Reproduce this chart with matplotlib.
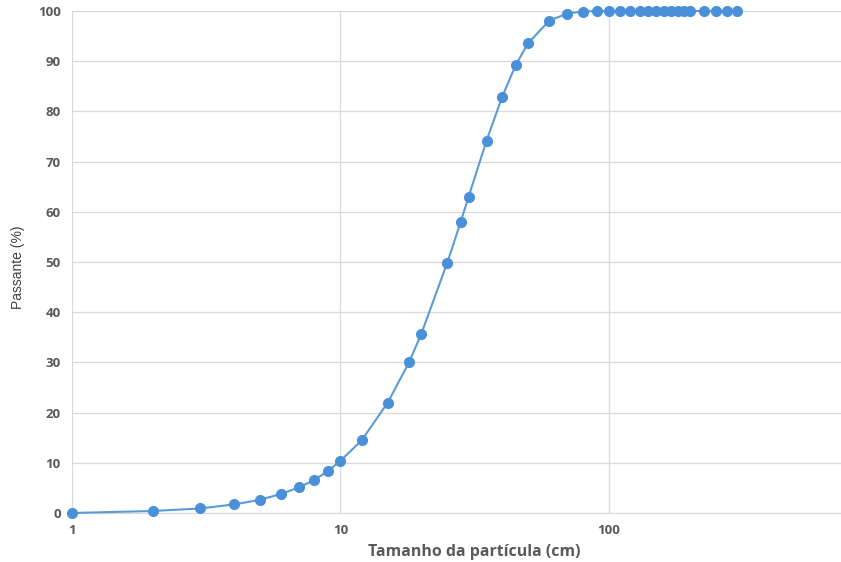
import matplotlib
matplotlib.use("Agg")
import matplotlib.pyplot as plt
from matplotlib.ticker import FixedLocator, FixedFormatter, NullLocator

tamanho = [1, 2, 3, 4, 5, 6, 7, 8, 9, 10, 12, 15, 18, 20, 25, 28, 30, 35, 40, 45,
           50, 60, 70, 80, 90, 100, 110, 120, 130, 140, 150, 160, 170, 180, 190,
           200, 225, 250, 275, 300]
passante = [0.0, 0.4, 0.9, 1.7, 2.6, 3.8, 5.1, 6.6, 8.4, 10.4, 14.5, 22.0, 30.0,
            35.7, 49.9, 57.9, 63.0, 74.2, 82.9, 89.3, 93.6, 98.1, 99.5, 99.9,
            100, 100, 100, 100, 100, 100, 100, 100, 100, 100, 100, 100, 100, 100,
            100, 100]

x_ticks = [1, 10, 100]
x_ticklabels = ["1", "10", "100"]
y_ticks = [0, 10, 20, 30, 40, 50, 60, 70, 80, 90, 100]

fig = plt.figure(figsize=(8.41, 5.62), dpi=100)
# the original axis runs to 1000 and is cut off at the right edge of the image
ax = fig.add_axes([72 / 841, 49 / 562, 805.5 / 841, 502 / 562])

ax.plot(tamanho, passante, color="#5b9bd5", lw=1.5, marker="o", ms=7,
        mfc="#4a90d9", mec="#4a90d9", zorder=3, clip_on=False)

ax.set_xscale("log")
ax.set_xlim(1, 1000)
ax.set_ylim(0, 100)
ax.xaxis.set_major_locator(FixedLocator(x_ticks))
ax.xaxis.set_major_formatter(FixedFormatter(x_ticklabels))
ax.xaxis.set_minor_locator(NullLocator())
ax.set_yticks(y_ticks)

ax.grid(True, color="#d9d9d9", lw=0.9)
ax.set_axisbelow(True)
for s in ["top", "right", "left"]:
    ax.spines[s].set_visible(False)
ax.spines["bottom"].set_color("#d9d9d9")
ax.tick_params(length=0, colors="#595959", labelsize=9.5, pad=8)
for lab in ax.get_xticklabels() + ax.get_yticklabels():
    lab.set_fontfamily(["Open Sans", "DejaVu Sans"])
    lab.set_fontweight("bold")

ax.set_xlabel("Tamanho da partícula (cm)", fontsize=11.4, color="#595959",
              fontweight="bold", family=["Open Sans", "DejaVu Sans"], labelpad=5)
ax.set_ylabel("Passante (%)", fontsize=10, color="#404040",
              family=["Liberation Sans", "DejaVu Sans"])
ax.yaxis.set_label_coords(-(72 - 25) / 805.5, 0.49)

fig.savefig("out.png", dpi=100)
